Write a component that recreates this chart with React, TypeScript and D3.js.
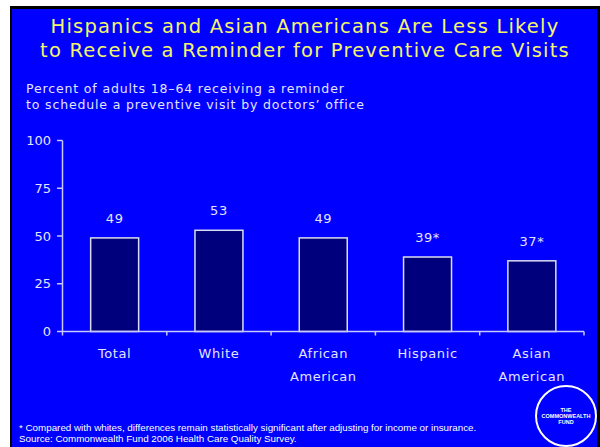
import React from "react";
import * as d3 from "d3";

const categories: string[][] = [["Total"], ["White"], ["African", "American"], ["Hispanic"], ["Asian", "American"]];
const values: number[] = [49, 53, 49, 39, 37];
const valueLabels: string[] = ["49", "53", "49", "39*", "37*"];
const yTicks: number[] = [0, 25, 50, 75, 100];
const titleLines: string[] = [
  "Hispanics and Asian Americans Are Less Likely",
  "to Receive a Reminder for Preventive Care Visits",
];
const subtitleLines: string[] = [
  "Percent of adults 18\u201364 receiving a reminder",
  "to schedule a preventive visit by doctors\u2019 office",
];
const footnotes: string[] = [
  "* Compared with whites, differences remain statistically significant after adjusting for income or insurance.",
  "Source: Commonwealth Fund 2006 Health Care Quality Survey.",
];

const W = 600;
const H = 447;
const FONT = "'DejaVu Sans', Verdana, sans-serif";
const AXIS = "#c8c8ff";
const TXT = "#e4e4ff";

export default function App() {
  const keys = categories.map((c) => c.join(" "));
  const x = d3.scaleBand<string>().domain(keys).range([62.5, 584]).paddingInner(0).paddingOuter(0);
  const y = d3.scaleLinear().domain([0, 100]).range([331.5, 140.5]);
  const bw = x.bandwidth() * 0.46;
  const y0 = y(0);

  return (
    <svg width={W} height={H} style={{ position: "fixed", left: 0, top: 0, display: "block" }}>
      <rect x={0} y={0} width={W} height={H} fill="#ffffff" />
      <rect x={10} y={6} width={590} height={441} fill="#000000" />
      <rect x={12} y={9} width={585} height={438} fill="#0000ff" />

      {titleLines.map((t, i) => (
        <text key={t} x={305} y={33 + i * 24} textAnchor="middle" fill="#f4f46a" fontFamily={FONT} fontSize={19.5} letterSpacing={1.2}>
          {t}
        </text>
      ))}
      {subtitleLines.map((t, i) => (
        <text key={t} x={26} y={93 + i * 16} fill={TXT} fontFamily={FONT} fontSize={12.5} letterSpacing={0.85}>
          {t}
        </text>
      ))}

      {/* y axis */}
      <line x1={62.5} x2={62.5} y1={y(100)} y2={y0 + 4} stroke={AXIS} strokeWidth={1.5} />
      {yTicks.map((t) => (
        <g key={t}>
          <line x1={57} x2={62.5} y1={y(t)} y2={y(t)} stroke={AXIS} strokeWidth={1.5} />
          <text x={51} y={y(t) + 4.5} textAnchor="end" fill={TXT} fontFamily={FONT} fontSize={13}>
            {t}
          </text>
        </g>
      ))}

      {/* bars */}
      {keys.map((k, i) => {
        const cx = (x(k) as number) + x.bandwidth() / 2;
        return (
          <g key={k}>
            <rect
              x={cx - bw / 2}
              y={y(values[i])}
              width={bw}
              height={y0 - y(values[i])}
              fill="#00007c"
              stroke="#dcdcf0"
              strokeWidth={1.5}
            />
            <text x={cx} y={y(values[i]) - 15} textAnchor="middle" fill={TXT} fontFamily={FONT} fontSize={13} letterSpacing={0.6}>
              {valueLabels[i]}
            </text>
            {categories[i].map((line, j) => (
              <text key={line} x={cx} y={358 + j * 22.5} textAnchor="middle" fill={TXT} fontFamily={FONT} fontSize={13} letterSpacing={0.6}>
                {line}
              </text>
            ))}
          </g>
        );
      })}

      {/* x axis */}
      <line x1={62.5} x2={584} y1={y0} y2={y0} stroke={AXIS} strokeWidth={1.5} />
      {keys.map((k) => {
        const bx = (x(k) as number) + x.bandwidth();
        return <line key={k} x1={bx} x2={bx} y1={y0} y2={y0 + 4} stroke={AXIS} strokeWidth={1.5} />;
      })}

      {footnotes.map((t, i) => (
        <text key={t} x={19} y={431 + i * 11} fill="#ffffff" fontFamily="'Liberation Sans', Arial, sans-serif" fontSize={9.8}>
          {t}
        </text>
      ))}

      {/* logo */}
      <circle cx={566} cy={416} r={30} fill="none" stroke="#ffffff" strokeWidth={2} />
      {["THE", "COMMONWEALTH", "FUND"].map((t, i) => (
        <text key={t} x={566} y={412 + i * 6} textAnchor="middle" fill="#ffffff" fontFamily="'Liberation Sans', Arial, sans-serif" fontSize={5.5} fontWeight="bold">
          {t}
        </text>
      ))}
    </svg>
  );
}
